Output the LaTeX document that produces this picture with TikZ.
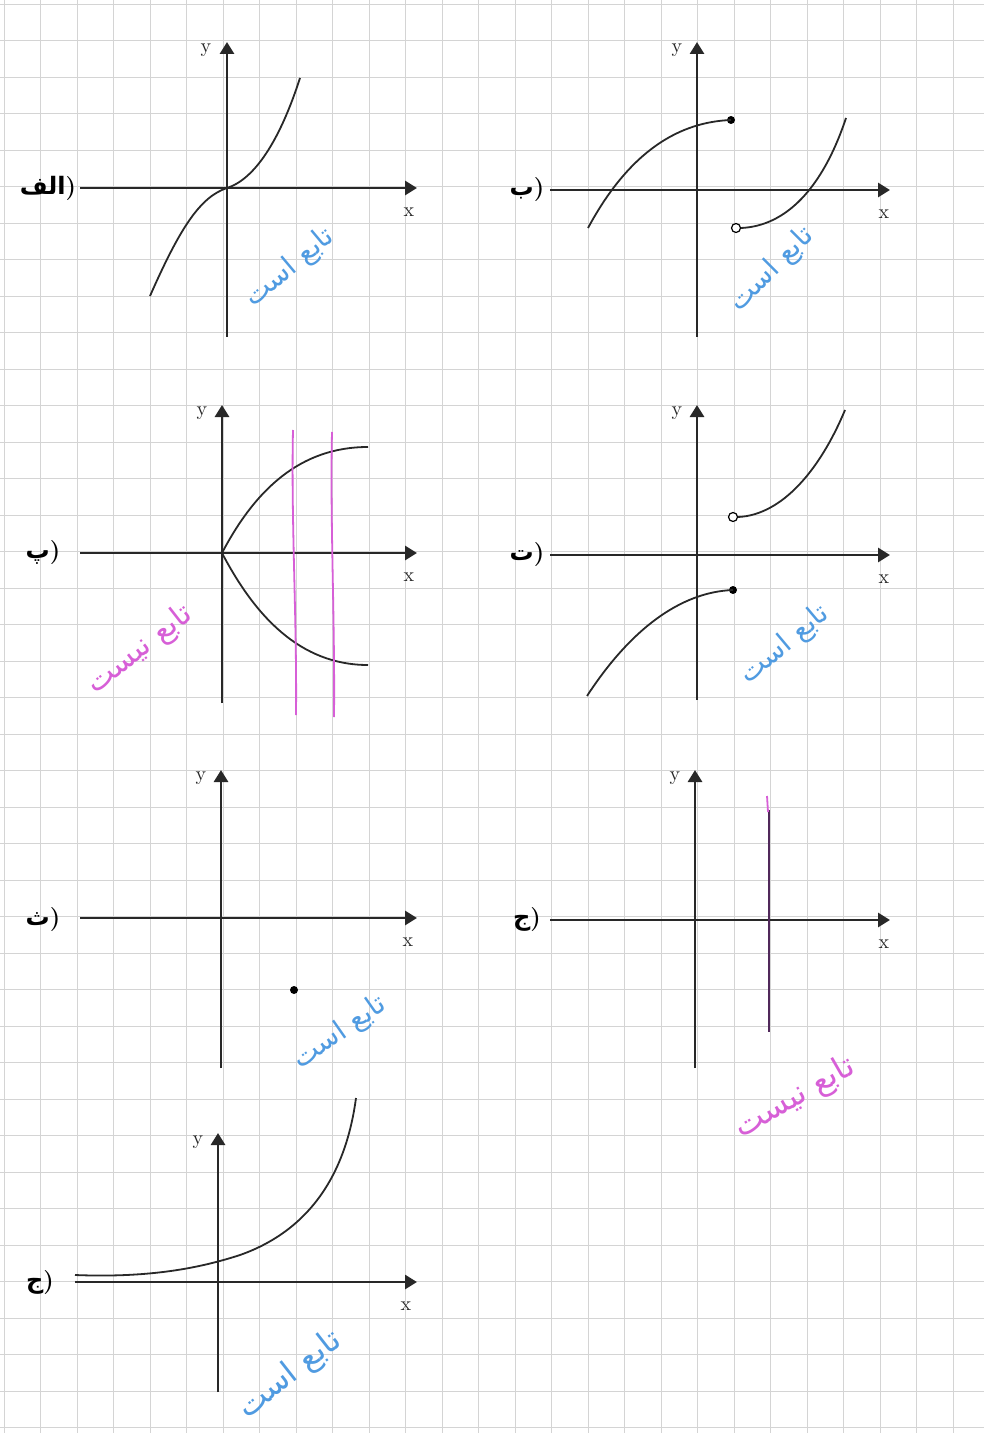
\documentclass[tikz,border=0pt]{standalone}
\usepackage{fontspec}
\usetikzlibrary{arrows.meta}
\TeXXeTstate=1
\newfontfamily\arabicfont[Script=Arabic]{DejaVu Sans}
\newcommand{\clp}{{\rmfamily\bfseries )}}
\definecolor{gridgray}{RGB}{212,212,212}
\definecolor{penblue}{RGB}{80,155,225}
\definecolor{penpink}{RGB}{215,95,215}
\definecolor{inkgray}{RGB}{40,40,40}
\begin{document}
\begin{tikzpicture}[x=0.5pt,y=-0.5pt,
  axis/.style={line width=1.4pt,draw=inkgray,-{Triangle[width=7pt,length=6pt]}},
  curve/.style={line width=0.9pt,draw=inkgray},
  axlabel/.style={font=\fontsize{10}{12}\selectfont,text=inkgray,inner sep=0pt},
  partlabel/.style={font=\arabicfont\bfseries\fontsize{12}{14}\selectfont,inner sep=0pt},
  bluenote/.style={font=\arabicfont\fontsize{14}{16}\selectfont,text=penblue,inner sep=0pt},
  pinknote/.style={font=\arabicfont\fontsize{15}{17}\selectfont,text=penpink,inner sep=0pt},
  closeddot/.style={circle,fill=black,inner sep=0pt,minimum size=4pt},
  opendot/.style={circle,draw=black,fill=white,line width=0.6pt,inner sep=0pt,minimum size=4.5pt}]
\useasboundingbox (0,0) rectangle (984,1433);
\fill[white] (0,0) rectangle (984,1433);
% grid
\foreach \i in {0,...,27} {
  \draw[gridgray,line width=0.4pt] ({4+36.5*\i},0) -- ({4+36.5*\i},1433);
}
\foreach \j in {0,...,39} {
  \draw[gridgray,line width=0.4pt] (0,{4+36.5*\j}) -- (984,{4+36.5*\j});
}

% ---------- graph alef ----------
\coordinate (a-xl) at (80,188); \coordinate (a-xr) at (417,188);
\coordinate (a-yb) at (227,337); \coordinate (a-yt) at (227,42);
\draw[axis] (a-xl) -- (a-xr);
\draw[axis] (a-yb) -- (a-yt);
\node[axlabel] (a-y) at (206,50) {y};
\node[axlabel] (a-x) at (409,212) {x};
\coordinate (a-c1) at (150,296); \coordinate (a-c0) at (227,188); \coordinate (a-c2) at (300,78);
\draw[curve] (a-c1) .. controls (180,228) and (200,197) .. (a-c0) .. controls (255,179) and (280,140) .. (a-c2);
\node[partlabel] (a-lab) at (48,188) {\beginR الف\endR\clp};
\node[bluenote,rotate=40] (a-note) at (290,268) {\beginR تابع است\endR};

% ---------- graph be ----------
\coordinate (b-xl) at (550,190); \coordinate (b-xr) at (890,190);
\coordinate (b-yb) at (697,337); \coordinate (b-yt) at (697,42);
\draw[axis] (b-xl) -- (b-xr);
\draw[axis] (b-yb) -- (b-yt);
\node[axlabel] (b-y) at (677,50) {y};
\node[axlabel] (b-x) at (884,214) {x};
\node[closeddot] (b-d1) at (731,120) {};
\node[opendot] (b-d2) at (736,228) {};
\coordinate (b-s1) at (588,228); \coordinate (b-e2) at (846,118);
\draw[curve] (b-s1) .. controls (630,150) and (680,122) .. (b-d1.center);
\draw[curve] (b-d2.east) .. controls (785,226) and (822,190) .. (b-e2);
\node[partlabel] (b-lab) at (527,190) {\beginR ب\endR\clp};
\node[bluenote,rotate=45] (b-note) at (772,270) {\beginR تابع است\endR};

% ---------- graph pe ----------
\coordinate (p-xl) at (80,553); \coordinate (p-xr) at (417,553);
\coordinate (p-yb) at (222,703); \coordinate (p-yt) at (222,405);
\draw[axis] (p-xl) -- (p-xr);
\draw[axis] (p-yb) -- (p-yt);
\node[axlabel] (p-y) at (202,413) {y};
\node[axlabel] (p-x) at (409,577) {x};
\coordinate (p-o) at (222,553); \coordinate (p-u) at (368,447); \coordinate (p-d) at (368,665);
\draw[curve] (p-o) .. controls (255,490) and (300,447) .. (p-u);
\draw[curve] (p-o) .. controls (255,616) and (300,665) .. (p-d);
\coordinate (p-m1t) at (293,430); \coordinate (p-m1b) at (296,715);
\coordinate (p-m2t) at (332,432); \coordinate (p-m2b) at (334,717);
\draw[penpink,line width=0.9pt] (p-m1t) .. controls (291,520) and (297,620) .. (p-m1b);
\draw[penpink,line width=0.9pt] (p-m2t) .. controls (330,520) and (335,620) .. (p-m2b);
\node[partlabel] (p-lab) at (43,553) {\beginR پ\endR\clp};
\node[pinknote,rotate=38] (p-note) at (140,650) {\beginR تابع نیست\endR};

% ---------- graph te ----------
\coordinate (t-xl) at (550,555); \coordinate (t-xr) at (890,555);
\coordinate (t-yb) at (697,700); \coordinate (t-yt) at (697,405);
\draw[axis] (t-xl) -- (t-xr);
\draw[axis] (t-yb) -- (t-yt);
\node[axlabel] (t-y) at (677,413) {y};
\node[axlabel] (t-x) at (884,579) {x};
\node[opendot] (t-d1) at (733,517) {};
\node[closeddot] (t-d2) at (733,590) {};
\coordinate (t-e1) at (845,410); \coordinate (t-s2) at (587,696);
\draw[curve] (t-d1.east) .. controls (782,515) and (820,470) .. (t-e1);
\draw[curve] (t-s2) .. controls (630,630) and (680,592) .. (t-d2.center);
\node[partlabel] (t-lab) at (527,555) {\beginR ت\endR\clp};
\node[bluenote,rotate=40] (t-note) at (785,645) {\beginR تابع است\endR};

% ---------- graph se ----------
\coordinate (s-xl) at (80,918); \coordinate (s-xr) at (417,918);
\coordinate (s-yb) at (221,1068); \coordinate (s-yt) at (221,770);
\draw[axis] (s-xl) -- (s-xr);
\draw[axis] (s-yb) -- (s-yt);
\node[axlabel] (s-y) at (201,778) {y};
\node[axlabel] (s-x) at (408,942) {x};
\node[closeddot] (s-d) at (294,990) {};
\node[partlabel] (s-lab) at (43,920) {\beginR ث\endR\clp};
\node[bluenote,rotate=35] (s-note) at (340,1033) {\beginR تابع است\endR};

% ---------- graph jim ----------
\coordinate (j-xl) at (550,920); \coordinate (j-xr) at (890,920);
\coordinate (j-yb) at (695,1068); \coordinate (j-yt) at (695,770);
\draw[axis] (j-xl) -- (j-xr);
\draw[axis] (j-yb) -- (j-yt);
\node[axlabel] (j-y) at (675,778) {y};
\node[axlabel] (j-x) at (884,944) {x};
\coordinate (j-vt) at (769,810); \coordinate (j-vb) at (769,1032);
\draw[line width=1pt,draw={rgb,255:red,80;green,40;blue,90}] (j-vt) -- (j-vb);
\coordinate (j-pt) at (767,796); \coordinate (j-pb) at (768,812);
\draw[penpink,line width=0.9pt] (j-pt) -- (j-pb);
\node[partlabel] (j-lab) at (527,920) {\beginR ج\endR\clp};
\node[pinknote,rotate=30,font=\arabicfont\fontsize{16}{18}\selectfont] (j-note) at (795,1098) {\beginR تابع نیست\endR};

% ---------- graph che ----------
\coordinate (c-xl) at (75,1282); \coordinate (c-xr) at (417,1282);
\coordinate (c-yb) at (218,1392); \coordinate (c-yt) at (218,1133);
\draw[axis] (c-xl) -- (c-xr);
\draw[axis] (c-yb) -- (c-yt);
\node[axlabel] (c-y) at (198,1142) {y};
\node[axlabel] (c-x) at (406,1306) {x};
\coordinate (c-s) at (75,1275); \coordinate (c-m) at (240,1255); \coordinate (c-e) at (356,1098);
\draw[curve] (c-s) .. controls (150,1278) and (200,1268) .. (c-m) .. controls (305,1232) and (345,1180) .. (c-e);
\node[partlabel] (c-lab) at (40,1282) {\beginR ج\endR\clp};
\node[bluenote,rotate=38,font=\arabicfont\fontsize{16}{18}\selectfont] (c-note) at (290,1375) {\beginR تابع است\endR};
\end{tikzpicture}
\end{document}
